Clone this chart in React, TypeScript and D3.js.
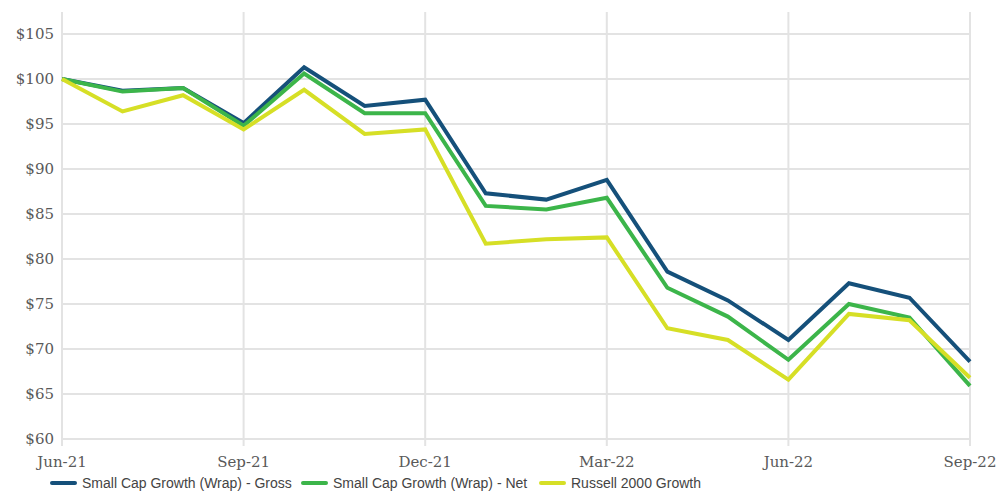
import {useEffect, useRef} from 'react'
import * as d3 from 'd3'

const months = ['Jun-21','Jul-21','Aug-21','Sep-21','Oct-21','Nov-21','Dec-21','Jan-22','Feb-22','Mar-22','Apr-22','May-22','Jun-22','Jul-22','Aug-22','Sep-22']
const tickMonths = ['Jun-21','Sep-21','Dec-21','Mar-22','Jun-22','Sep-22']
const yTicks = [60,65,70,75,80,85,90,95,100,105]

const gross = [100, 98.7, 99.0, 95.1, 101.3, 97.0, 97.7, 87.3, 86.6, 88.8, 78.6, 75.4, 71.0, 77.3, 75.7, 68.6]
const net = [100, 98.6, 99.0, 94.8, 100.6, 96.2, 96.2, 85.9, 85.5, 86.8, 76.8, 73.6, 68.8, 75.0, 73.5, 65.9]
const russell = [100, 96.4, 98.2, 94.4, 98.8, 93.9, 94.4, 81.7, 82.2, 82.4, 72.3, 71.0, 66.6, 73.9, 73.2, 66.8]

const series = [
	{name: 'Small Cap Growth (Wrap) - Gross', values: gross, color: '#15507a'},
	{name: 'Small Cap Growth (Wrap) - Net', values: net, color: '#3cb54a'},
	{name: 'Russell 2000 Growth', values: russell, color: '#d6df26'},
]

const App = () => {
	const ref = useRef<SVGSVGElement>(null)

	useEffect(() => {
		const svg = d3.select(ref.current)
		svg.selectAll('*').remove()

		const left = 62, right = 970, top = 12, bottom = 439

		const x = d3.scalePoint().domain(months).range([left, right])
		const y = d3.scaleLinear().domain([60, 105]).range([bottom, 34])

		const grid = svg.append('g')
		// horizontal grid
		grid.selectAll('line.h')
			.data(yTicks)
			.enter()
			.append('line')
			.attr('x1', left).attr('x2', right)
			.attr('y1', d => y(d)).attr('y2', d => y(d))
			.attr('stroke', '#e3e3e3').attr('stroke-width', 2)
		// vertical grid
		grid.selectAll('line.v')
			.data(tickMonths)
			.enter()
			.append('line')
			.attr('x1', d => x(d)!).attr('x2', d => x(d)!)
			.attr('y1', top).attr('y2', bottom + 7)
			.attr('stroke', '#e3e3e3').attr('stroke-width', 2)

		// y labels
		svg.append('g').selectAll('text')
			.data(yTicks)
			.enter()
			.append('text')
			.attr('x', 54)
			.attr('y', d => y(d) + 5)
			.attr('text-anchor', 'end')
			.attr('font-family', '"DejaVu Serif", serif')
			.attr('font-size', 15)
			.attr('fill', '#595959')
			.text(d => `$${d}`)

		// x labels
		svg.append('g').selectAll('text')
			.data(tickMonths)
			.enter()
			.append('text')
			.attr('x', d => x(d)!)
			.attr('y', 467)
			.attr('text-anchor', 'middle')
			.attr('font-family', '"DejaVu Serif", serif')
			.attr('font-size', 15)
			.attr('fill', '#595959')
			.text(d => d)

		const line = d3.line<number>()
			.x((d, i) => x(months[i])!)
			.y(d => y(d))

		// excel order: later series on top
		svg.append('g').selectAll('path')
			.data(series)
			.enter()
			.append('path')
			.attr('d', d => line(d.values))
			.attr('fill', 'none')
			.attr('stroke', d => d.color)
			.attr('stroke-width', 4)
			.attr('stroke-linejoin', 'miter')

		// legend
		const legendX = [52, 303, 541]
		const legend = svg.append('g').selectAll('g')
			.data(series)
			.enter()
			.append('g')
			.attr('transform', (d, i) => `translate(${legendX[i]},483)`)
		legend.append('line')
			.attr('x1', 0).attr('x2', 23)
			.attr('y1', 0).attr('y2', 0)
			.attr('stroke', d => d.color)
			.attr('stroke-width', 4)
			.attr('stroke-linecap', 'round')
		legend.append('text')
			.attr('x', 30)
			.attr('y', 5)
			.attr('font-family', '"Liberation Sans", Arial, sans-serif')
			.attr('font-size', 14)
			.attr('fill', '#444')
			.text(d => d.name)
	}, [])

	return (
		<svg ref={ref} width={998} height={491} style={{position: 'absolute', left: 0, top: 0}}/>
	)
}

export default App
